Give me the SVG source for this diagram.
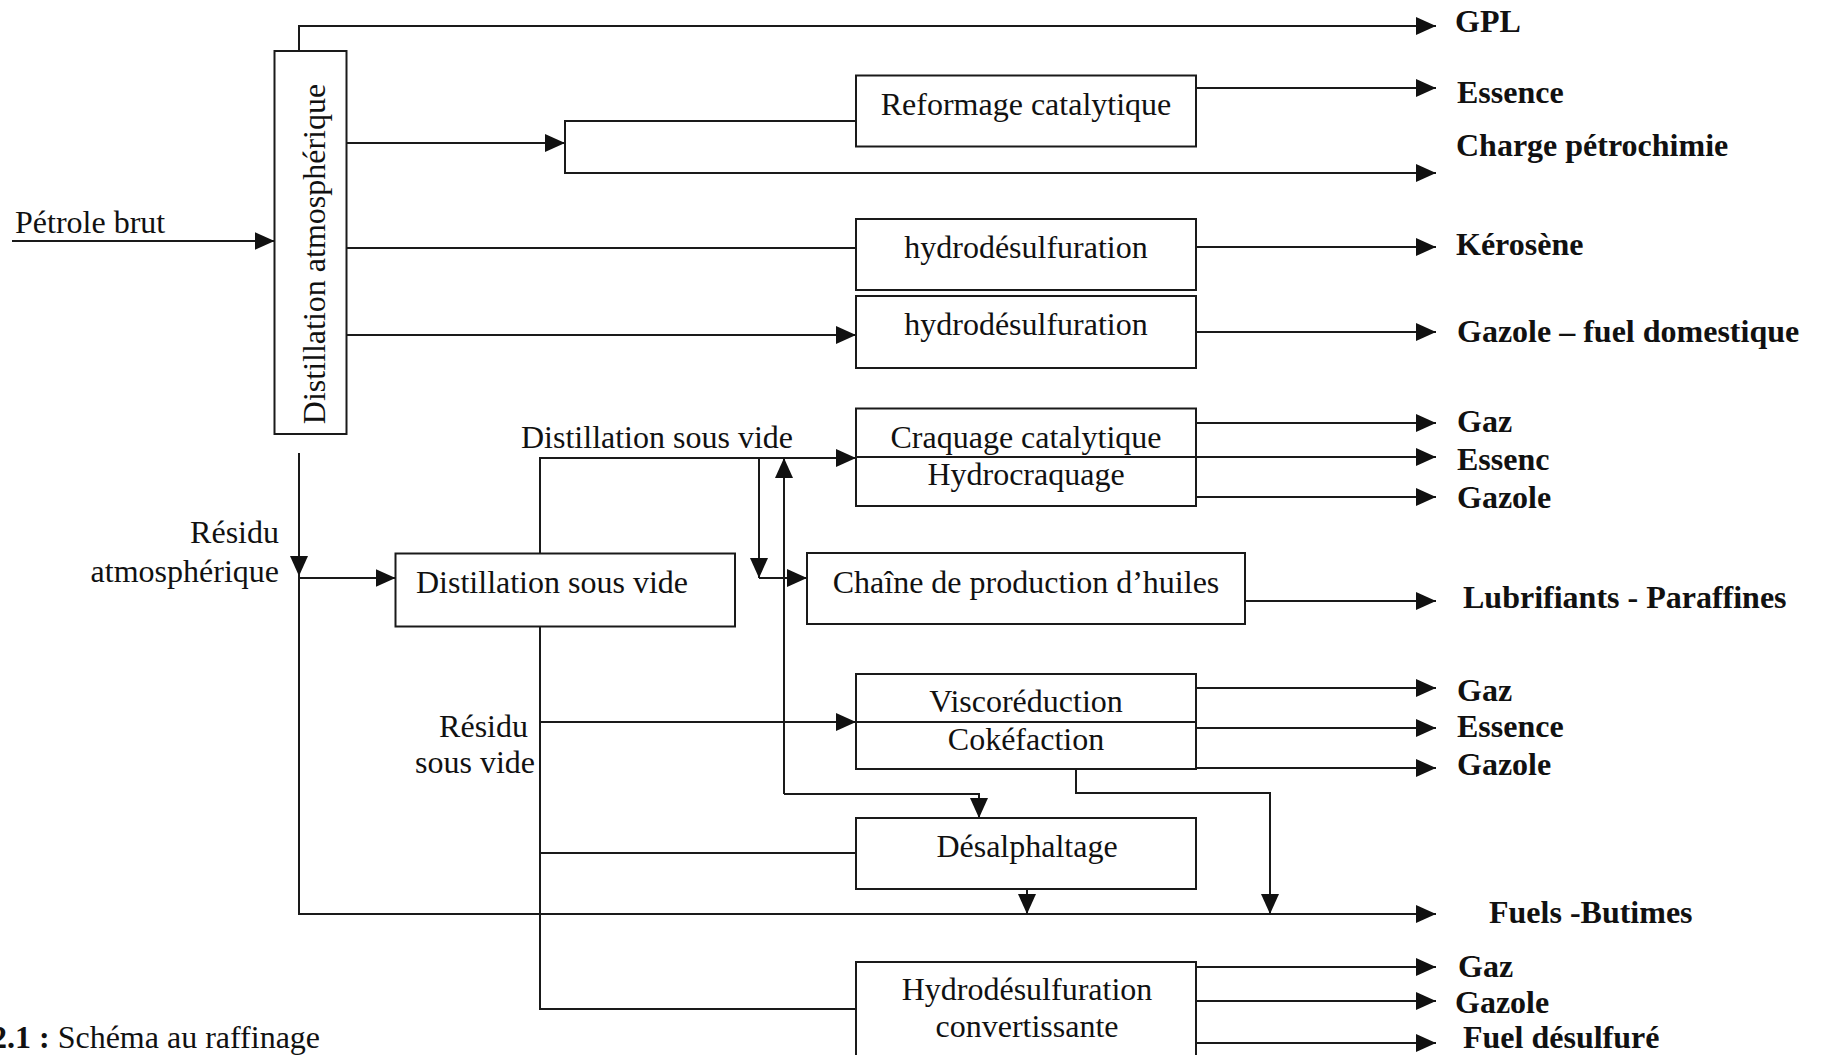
<svg xmlns="http://www.w3.org/2000/svg" width="1824" height="1055" viewBox="0 0 1824 1055">
<style>
.box{fill:#fff;stroke:#1a1a1a;stroke-width:2}
.ln{fill:none;stroke:#1a1a1a;stroke-width:2}
.t{font-family:"Liberation Serif","Times New Roman",serif;font-size:32px;fill:#111}
.c{text-anchor:middle}
.e{text-anchor:end}
.b{font-family:"Liberation Serif","Times New Roman",serif;font-size:32px;font-weight:bold;fill:#111}
</style>
<defs>
<marker id="ar" markerUnits="userSpaceOnUse" markerWidth="21" markerHeight="19" refX="20" refY="9" orient="auto">
<path d="M0,0 L20,9 L0,18 z" fill="#111"/>
</marker>
</defs>
<rect width="1824" height="1055" fill="#fff"/>

<g id="connectors">
<path class="ln" d="M12,241 H274.5" marker-end="url(#ar)"/>
<path class="ln" d="M299,51 V26 H1436" marker-end="url(#ar)"/>
<path class="ln" d="M347,143 H565" marker-end="url(#ar)"/>
<path class="ln" d="M856,121 H565 V173 H1436" marker-end="url(#ar)"/>
<path class="ln" d="M1196,88 H1436" marker-end="url(#ar)"/>
<path class="ln" d="M347,248 H856"/>
<path class="ln" d="M1196,247 H1436" marker-end="url(#ar)"/>
<path class="ln" d="M347,335 H856" marker-end="url(#ar)"/>
<path class="ln" d="M1196,332 H1436" marker-end="url(#ar)"/>
<path class="ln" d="M299,453 V576" marker-end="url(#ar)"/>
<path class="ln" d="M299,574 V914 H1436" marker-end="url(#ar)"/>
<path class="ln" d="M299,578 H395.5" marker-end="url(#ar)"/>
<path class="ln" d="M540,553.5 V458 H856" marker-end="url(#ar)"/>
<path class="ln" d="M759,458 V578" marker-end="url(#ar)"/>
<path class="ln" d="M759,578 H807" marker-end="url(#ar)"/>
<path class="ln" d="M784,794 V458" marker-end="url(#ar)"/>
<path class="ln" d="M784,794 H979 V818" marker-end="url(#ar)"/>
<path class="ln" d="M540,626.5 V1009 H856"/>
<path class="ln" d="M540,722 H856" marker-end="url(#ar)"/>
<path class="ln" d="M540,853 H856"/>
<path class="ln" d="M1196,423 H1436" marker-end="url(#ar)"/>
<path class="ln" d="M856,457 H1436" marker-end="url(#ar)"/>
<path class="ln" d="M1196,497 H1436" marker-end="url(#ar)"/>
<path class="ln" d="M1245,601 H1436" marker-end="url(#ar)"/>
<path class="ln" d="M1196,688 H1436" marker-end="url(#ar)"/>
<path class="ln" d="M1196,728 H1436" marker-end="url(#ar)"/>
<path class="ln" d="M1196,768 H1436" marker-end="url(#ar)"/>
<path class="ln" d="M1076,769 V793 H1270 V914" marker-end="url(#ar)"/>
<path class="ln" d="M1027,889 V914" marker-end="url(#ar)"/>
<path class="ln" d="M1196,967 H1436" marker-end="url(#ar)"/>
<path class="ln" d="M1196,1001 H1436" marker-end="url(#ar)"/>
<path class="ln" d="M1196,1043 H1436" marker-end="url(#ar)"/>
</g>

<g id="distillation-atmospherique">
<rect class="box" x="274.5" y="51" width="72" height="383"/>
<text class="t c" transform="translate(325,254) rotate(-90)">Distillation atmosphérique</text>
</g>
<g id="reformage">
<rect class="box" x="856" y="75.5" width="340" height="71"/>
<text class="t c" x="1026" y="115">Reformage catalytique</text>
</g>
<g id="hds1">
<rect class="box" x="856" y="219" width="340" height="71"/>
<text class="t c" x="1026" y="258">hydrodésulfuration</text>
</g>
<g id="hds2">
<rect class="box" x="856" y="296" width="340" height="72"/>
<text class="t c" x="1026" y="335">hydrodésulfuration</text>
</g>
<g id="distillation-sous-vide">
<rect class="box" x="395.5" y="553.5" width="339.5" height="73"/>
<text class="t" x="416" y="593">Distillation sous vide</text>
</g>
<g id="craquage">
<rect class="box" x="856" y="408.5" width="340" height="97.5"/>
<line class="ln" x1="856" y1="457" x2="1196" y2="457"/>
<text class="t c" x="1026" y="448">Craquage catalytique</text>
<text class="t c" x="1026" y="485">Hydrocraquage</text>
</g>
<g id="chaine-huiles">
<rect class="box" x="807" y="553" width="438" height="71"/>
<text class="t c" x="1026" y="593">Chaîne de production d’huiles</text>
</g>
<g id="viscoreduction">
<rect class="box" x="856" y="674" width="340" height="95"/>
<line class="ln" x1="856" y1="722" x2="1196" y2="722"/>
<text class="t c" x="1026" y="712">Viscoréduction</text>
<text class="t c" x="1026" y="750">Cokéfaction</text>
</g>
<g id="desalphaltage">
<rect class="box" x="856" y="818" width="340" height="71"/>
<text class="t c" x="1027" y="857">Désalphaltage</text>
</g>
<g id="hds-convertissante">
<rect class="box" x="856" y="962" width="340" height="100"/>
<text class="t c" x="1027" y="1000">Hydrodésulfuration</text>
<text class="t c" x="1027" y="1037">convertissante</text>
</g>

<g id="labels">
<text class="t" x="15" y="233">Pétrole brut</text>
<text class="t e" x="279" y="543">Résidu</text>
<text class="t e" x="279" y="582">atmosphérique</text>
<text class="t" x="521" y="448">Distillation sous vide</text>
<text class="t e" x="528" y="737">Résidu</text>
<text class="t e" x="535" y="773">sous vide</text>
<text class="b" x="1455" y="32">GPL</text>
<text class="b" x="1457" y="103">Essence</text>
<text class="b" x="1456" y="156">Charge pétrochimie</text>
<text class="b" x="1456" y="255">Kérosène</text>
<text class="b" x="1457" y="342">Gazole – fuel domestique</text>
<text class="b" x="1457" y="432">Gaz</text>
<text class="b" x="1457" y="470">Essenc</text>
<text class="b" x="1457" y="508">Gazole</text>
<text class="b" x="1463" y="608">Lubrifiants - Paraffines</text>
<text class="b" x="1457" y="701">Gaz</text>
<text class="b" x="1457" y="737">Essence</text>
<text class="b" x="1457" y="775">Gazole</text>
<text class="b" x="1489" y="923">Fuels -Butimes</text>
<text class="b" x="1458" y="977">Gaz</text>
<text class="b" x="1455" y="1013">Gazole</text>
<text class="b" x="1463" y="1048">Fuel désulfuré</text>
<text class="t" x="-9" y="1048"><tspan font-weight="bold">2.1 : </tspan>Schéma au raffinage</text>
</g>
</svg>
